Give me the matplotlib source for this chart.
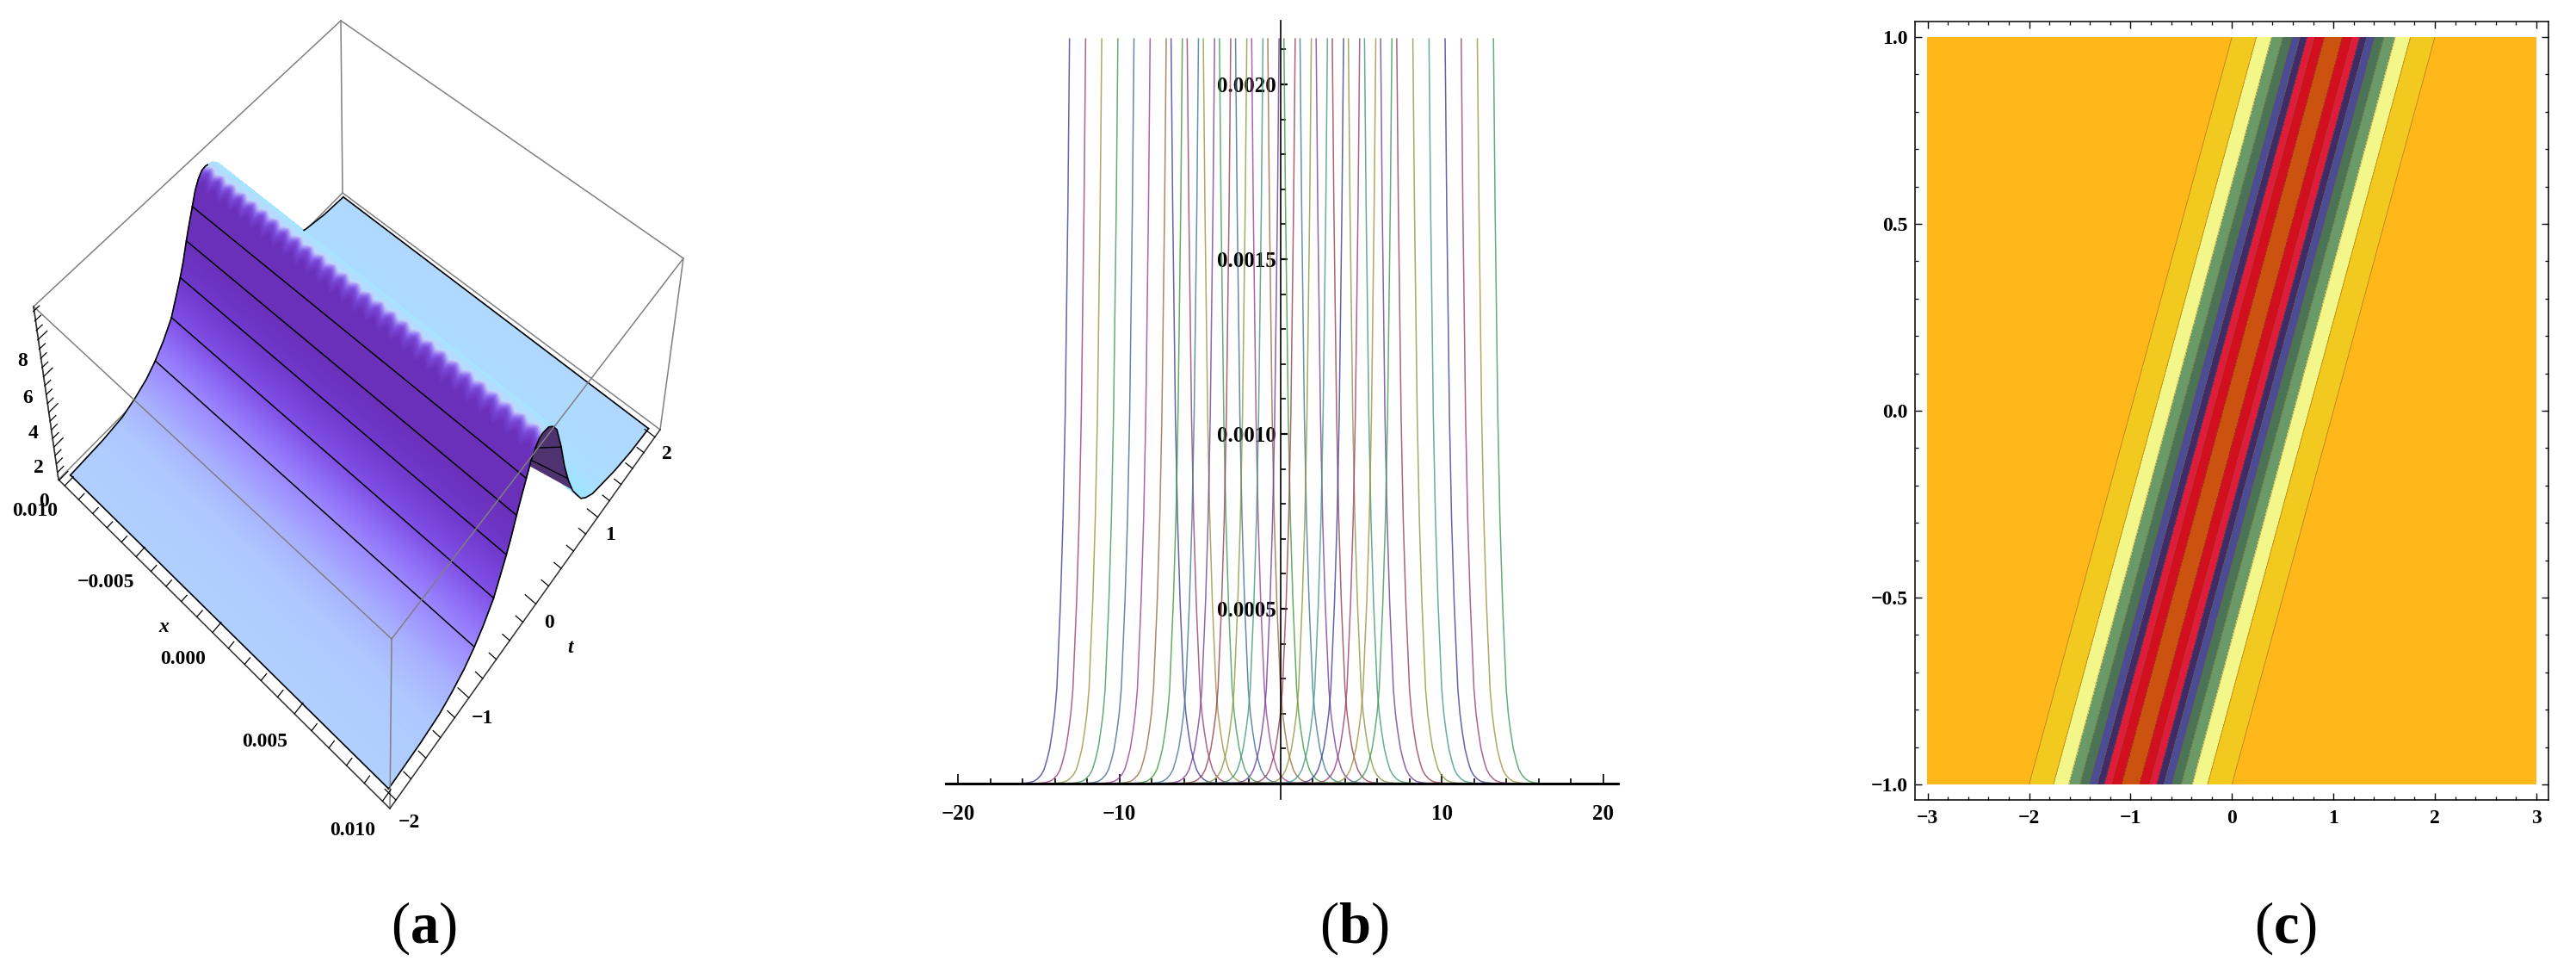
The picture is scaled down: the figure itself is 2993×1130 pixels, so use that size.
import numpy as np
import matplotlib
matplotlib.use("Agg")
import matplotlib.pyplot as plt
from matplotlib.colors import to_rgb
from matplotlib.ticker import FixedLocator, FixedFormatter, MultipleLocator

plt.rcParams['font.family'] = ['Liberation Serif', 'DejaVu Serif']
plt.rcParams['mathtext.fontset'] = 'custom'
plt.rcParams['mathtext.rm'] = 'Liberation Serif'
plt.rcParams['mathtext.bf'] = 'Liberation Serif:bold'
plt.rcParams['axes.unicode_minus'] = True

W, H = 2993, 1130
PANEL_LABELS = ['a', 'b', 'c']

# ---------- panel (a) data ----------
surf_t = [-2.0, -1.56, -1.31, -1.13, -0.97, -0.84, -0.71, -0.585, -0.51, -0.43, -0.37, -0.315, -0.26, -0.205, -0.15, -0.1, -0.05, 0.0,
          0.09, 0.16, 0.23, 0.33, 0.42, 0.51, 0.61, 0.7, 0.78, 0.87, 1.0, 1.4, 1.7, 2.0]
surf_z = [0.25, 0.35, 0.52, 0.85, 1.25, 1.75, 2.4, 3.2, 4.0, 4.85, 5.6, 6.45, 7.2, 7.9, 8.6, 9.0, 9.25, 9.3,
          9.2, 8.9, 8.4, 7.0, 5.5, 4.3, 3.2, 2.5, 1.9, 1.5, 1.1, 0.55, 0.3, 0.2]
mesh_t = [-0.84, -0.585, -0.43, -0.315, -0.205]
dark_mesh_t = [(-0.15, 0.5), (-0.1, 0.33)]
colour_t = [-2.0, -1.4, -1.1, -0.84, -0.7, -0.585, -0.43, -0.315, -0.1, -0.04, -0.01, 0.02, 0.04, 0.1, 0.6, 0.9, 1.2, 2.0]
colour_c = ['#B0D0FF', '#AEC8FF', '#A8B0FF', '#9C88FF', '#8E6CF6', '#8050E6', '#7038CC', '#6A30BA', '#6A30BA',
            '#7A48D8', '#9070F0', '#B8ACF8', '#C0D8FF', '#A8E4FF', '#A8E0FF', '#A0E4FF', '#ACDCFF', '#B0D8FF']
x_ticks_a = [-0.010, -0.005, 0.000, 0.005, 0.010]
x_labels_a = ['0.010', '\u22120.005', '0.000', '0.005', '0.010']
t_ticks_a = [-2, -1, 0, 1, 2]
z_ticks_a = [0, 2, 4, 6, 8]

# box corners as seen on the page: (x sign, t sign, z level) -> pixel position
corner_key = [(-1, -1, 0), (1, -1, 0), (1, 1, 0), (-1, 1, 0), (-1, -1, 1), (1, -1, 1), (1, 1, 1), (-1, 1, 1)]
corner_px = [(68, 557), (453, 939), (767, 499), (398, 224), (39, 356), (455, 742), (794, 300), (396, 24)]
XB, TB, ZB = 0.0104, 2.08, 9.75
TEETH = 28

# ---------- panel (b) data ----------
rise_x = [-13.1, -12.1, -11.1, -10.1, -9.1, -8.1, -7.1, -6.1, -5.1, -4.1, -3.1, -2.1, -1.1, -0.1, 0.9, 1.9, 2.9, 3.9, 4.9, 5.9, 6.9]
fall_x = [-6.8, -5.8, -4.8, -3.8, -2.8, -1.8, -0.8, 0.2, 1.2, 2.2, 3.2, 4.2, 5.2, 6.2, 7.2, 8.2, 9.2, 10.2, 11.2, 12.2, 13.2]
leg_off = [0, -0.1, -0.27, -0.4, -0.56, -0.79, -0.92, -1.06, -1.23, -1.41, -1.58, -1.76, -2.0, -2.2, -2.5, -2.9]
leg_val = [0.00213, 0.00165, 0.00105, 0.00076, 0.00052, 0.00027, 0.0002, 0.00015, 0.0001, 0.000066, 0.00004,
           0.000025, 0.000013, 0.000007, 0.000003, 0.000001]
line_colours = ['#3D3D99', '#993D70', '#99943D', '#3D9955', '#3D6B99', '#993D99', '#996B3D', '#3D993D', '#3D7A99',
                '#7A3D99', '#993D4F', '#8A993D', '#3D9978', '#6A3D99', '#993D4F', '#8A993D', '#3D9988', '#3D3D99',
                '#993D70', '#99943D', '#3D9955']
b_xmajor = [-20, -10, 10, 20]
b_xminor = [-18, -16, -14, -12, -8, -6, -4, -2, 2, 4, 6, 8, 12, 14, 16, 18]
b_ymajor = [0.0005, 0.0010, 0.0015, 0.0020]
b_ylabels = ['0.0005', '0.0010', '0.0015', '0.0020']
b_yminor = [0.0001, 0.0002, 0.0003, 0.0004, 0.0006, 0.0007, 0.0008, 0.0009, 0.0011, 0.0012, 0.0013, 0.0014,
            0.0016, 0.0017, 0.0018, 0.0019, 0.0021]

# ---------- panel (c) data ----------
band_edges = [0.0, 0.09, 0.19, 0.26, 0.33, 0.41, 0.50, 0.61, 0.76, 1.0, 9.0]
band_colours = ['#CC5210', '#D20F1E', '#E21B3C', '#3F2C66', '#4C4C94', '#4B7355', '#6A9A68', '#F3F688', '#F2C91F', '#FFB719']
line_edges = [0.09, 0.19, 0.26, 0.33, 0.41, 0.50, 0.61, 0.76, 1.0]
c_xticks = [-3, -2, -1, 0, 1, 2, 3]
c_yticks = [-1.0, -0.5, 0.0, 0.5, 1.0]


def px_axes(fig, l, t, r, b):
    return fig.add_axes([l / W, 1 - b / H, (r - l) / W, (b - t) / H])


fig = plt.figure(figsize=(W / 100, H / 100), dpi=100, facecolor='white')

# ================= panel (a) =================
axa = px_axes(fig, 0, 0, 850, 1130)
axa.set_xlim(0, 850)
axa.set_ylim(1130, 0)
axa.axis('off')

world = np.array([[a * XB, b * TB, c * ZB, 1.0] for a, b, c in corner_key])
rows = []
for w_, (px, py) in zip(world, corner_px):
    rows.append(np.r_[w_, np.zeros(4), -px * w_])
    rows.append(np.r_[np.zeros(4), w_, -py * w_])
scale = np.array([1 / XB, 1 / TB, 1 / ZB, 1.0])
A = np.array(rows)
A[:, 0:4] *= scale
A[:, 4:8] *= scale
A[:, 8:12] *= scale
P = np.linalg.svd(A)[2][-1].reshape(3, 4) * scale


def proj(x, t, z):
    x, t, z = np.broadcast_arrays(np.asarray(x, float), np.asarray(t, float), np.asarray(z, float))
    h = np.stack([x, t, z, np.ones_like(x)], axis=-1) @ P.T
    return h[..., 0] / h[..., 2], h[..., 1] / h[..., 2]


# mesh, ordered back to front so later rows paint over earlier ones
t_grid = np.linspace(2.0, -2.0, 1001)
x_grid = np.linspace(-0.01, 0.01, 241)
z_line = np.interp(t_grid, surf_t, surf_z)
TT, XX = np.meshgrid(t_grid, x_grid, indexing='ij')
ZZ = np.repeat(z_line[:, None], x_grid.size, axis=1)
SX, SY = proj(XX, TT, ZZ)
stops = np.array([to_rgb(c) for c in colour_c])
# the colour steps of the original's coarse mesh show as teeth along the crest
tooth = np.abs((((XX + 0.01) / 0.02 * TEETH) % 1.0) - 0.5) * 2.0
lookup = TT + 0.045 * tooth * ((TT > -0.14) & (TT < 0.05))
RGB = np.stack([np.interp(lookup, colour_t, stops[:, i]) for i in range(3)], axis=-1)
axa.pcolormesh(SX, SY, RGB, shading='gouraud', zorder=2)

# dark underside near the ridge end, with the mesh levels crossing it
sel = (t_grid > -0.17) & (t_grid < 0.6)
ex, ey = proj(0.01, t_grid[sel], z_line[sel])
axa.fill(ex, ey, color='#4F3270', zorder=3, lw=0)
for tf, tb in dark_mesh_t:
    lx, ly = proj(0.01, [tf, tb], np.interp([tf, tb], surf_t, surf_z))
    axa.plot(lx, ly, color='black', lw=1.0, zorder=3.5)

# outline of the surface
lx, ly = proj(0.01, t_grid, z_line)
axa.plot(lx, ly, color='black', lw=1.2, zorder=4)
far_front = t_grid <= 0.03
lx, ly = proj(-0.01, t_grid[far_front], z_line[far_front])
axa.plot(lx, ly, color='black', lw=1.2, zorder=4)
far_back = t_grid >= 1.35
lx, ly = proj(-0.01, t_grid[far_back], z_line[far_back])
axa.plot(lx, ly, color='black', lw=1.2, zorder=4)
for tv, zv in ((-2.0, surf_z[0]), (2.0, surf_z[-1])):
    lx, ly = proj(x_grid, tv, zv)
    axa.plot(lx, ly, color='black', lw=1.2, zorder=4)
for tv in mesh_t:
    lx, ly = proj(x_grid, tv, np.interp(tv, surf_t, surf_z))
    axa.plot(lx, ly, color='black', lw=1.1, zorder=4)

# box edges
edge_pairs_back = [(0, 3), (3, 2), (3, 7), (4, 7), (7, 6), (2, 6), (0, 4)]
edge_pairs_front = [(4, 5), (5, 6), (1, 5)]
for pairs, zo in ((edge_pairs_back, 1), (edge_pairs_front, 5)):
    for i, j in pairs:
        axa.plot([corner_px[i][0], corner_px[j][0]], [corner_px[i][1], corner_px[j][1]],
                 color='#808080', lw=1.1, zorder=zo)
for i, j in [(0, 1), (1, 2), (0, 4)]:
    axa.plot([corner_px[i][0], corner_px[j][0]], [corner_px[i][1], corner_px[j][1]],
             color='#303030', lw=1.1, zorder=5)

# ticks
for v in np.arange(-0.010, 0.0101, 0.001):
    major = abs(round(v / 0.005) * 0.005 - v) < 1e-6
    d = 0.11 if major else 0.07
    lx, ly = proj([v, v], [-TB, -TB + d], [0, 0])
    axa.plot(lx, ly, color='black', lw=0.9, zorder=5)
for v in np.arange(-2, 2.01, 0.2):
    major = abs(round(v) - v) < 1e-6
    d = 0.0006 if major else 0.0004
    lx, ly = proj([XB, XB - d], [v, v], [0, 0])
    axa.plot(lx, ly, color='black', lw=0.9, zorder=5)
for v in np.arange(0, 9.51, 0.5):
    major = abs(round(v / 2) * 2 - v) < 1e-6
    d = 0.11 if major else 0.07
    lx, ly = proj([-XB, -XB], [-TB, -TB + d], [v, v])
    axa.plot(lx, ly, color='black', lw=0.9, zorder=5)

lab = dict(fontsize=17, fontweight='bold', ha='center', va='center', zorder=6)
for v, s in zip(x_ticks_a, x_labels_a):
    lx, ly = proj(v, -TB - 0.16, 0)
    axa.text(lx - 20, ly + 14, s, **lab)
for v in t_ticks_a:
    lx, ly = proj(XB + 0.0012, v, 0)
    axa.text(lx - 10, ly + 1, str(v).replace('-', '\u2212'), **lab)
for v in z_ticks_a:
    lx, ly = proj(-XB - 0.0006, -TB, v)
    axa.text(lx - 8, ly + 34, str(v), **lab)
lx, ly = proj(-0.0012, -TB - 0.16, 0)
axa.text(lx - 20, ly - 1, 'x', fontsize=17, style='italic', fontweight='bold', ha='center', va='center')
axa.text(663, 752, 't', fontsize=17, style='italic', fontweight='bold', ha='center', va='center')

# ================= panel (b) =================
axb = px_axes(fig, 1099, 24, 1880, 928)
axb.set_xlim(-20.77, 20.93)
axb.set_ylim(-0.0000443, 0.002182)
axb.patch.set_alpha(0)
off = np.array(leg_off)
val = np.array(leg_val)
for a_, b_, col in zip(rise_x, fall_x, line_colours):
    xs = np.r_[-16.0, a_ + off[::-1], np.nan, b_ - off, 16.0]
    ys = np.r_[0.0, val[::-1], np.nan, val, 0.0]
    axb.plot(xs, ys, color=col, lw=1.1, alpha=0.8, zorder=2, solid_joinstyle='round')
for s in ('top', 'right'):
    axb.spines[s].set_visible(False)
axb.spines['left'].set_position(('data', 0))
axb.spines['bottom'].set_position(('data', 0))
axb.spines['left'].set_linewidth(1.2)
axb.spines['bottom'].set_linewidth(2.2)
axb.xaxis.set_major_locator(FixedLocator(b_xmajor))
axb.xaxis.set_major_formatter(FixedFormatter([str(v).replace('-', '\u2212') for v in b_xmajor]))
axb.xaxis.set_minor_locator(FixedLocator(b_xminor))
axb.yaxis.set_major_locator(FixedLocator(b_ymajor))
axb.yaxis.set_major_formatter(FixedFormatter(b_ylabels))
axb.yaxis.set_minor_locator(FixedLocator(b_yminor))
axb.tick_params(axis='x', which='major', direction='in', length=8, width=1.2, pad=17, labelsize=18)
axb.tick_params(axis='x', which='minor', direction='in', length=4, width=1.2)
axb.tick_params(axis='y', which='major', direction='in', length=6, width=1.6, pad=4, labelsize=18)
axb.tick_params(axis='y', which='minor', direction='in', length=4, width=1.2)
for t_ in axb.get_xticklabels() + axb.get_yticklabels():
    t_.set_fontweight('bold')

# ================= panel (c) =================
axc = px_axes(fig, 2225, 25, 2961, 929)
X, T = np.meshgrid(np.linspace(-3, 3, 1201), np.linspace(-1, 1, 401))
U = np.abs(X - T)
axc.contourf(X, T, U, levels=band_edges, colors=band_colours, zorder=1)
axc.contour(X, T, U, levels=line_edges, colors=['#7F5A20'] * len(line_edges), linewidths=0.6, alpha=0.55, zorder=2)
axc.set_xlim(-3.125, 3.12)
axc.set_ylim(-1.0415, 1.0415)
axc.set_xticks(c_xticks)
axc.set_xticklabels([str(v).replace('-', '\u2212') for v in c_xticks])
axc.set_yticks(c_yticks)
axc.set_yticklabels([f'{v:.1f}'.replace('-', '\u2212') for v in c_yticks])
axc.xaxis.set_minor_locator(MultipleLocator(0.2))
axc.yaxis.set_minor_locator(MultipleLocator(0.1))
axc.tick_params(which='major', direction='in', length=5.5, width=1.0, top=True, right=True, labelsize=17)
axc.tick_params(axis='x', which='major', pad=8)
axc.tick_params(axis='y', which='major', pad=6)
axc.tick_params(which='minor', direction='in', length=3, width=0.9, top=True, right=True)
for t_ in axc.get_xticklabels() + axc.get_yticklabels():
    t_.set_fontweight('bold')
for s in axc.spines.values():
    s.set_linewidth(1.1)

# panel letters
for name, xp in zip(PANEL_LABELS, (492, 1573, 2656)):
    fig.text(xp / W, 1 - 1078 / H, '($\\mathbf{%s}$)' % name, fontsize=48, ha='center', va='center')

fig.savefig('out.png', dpi=100, facecolor='white')
